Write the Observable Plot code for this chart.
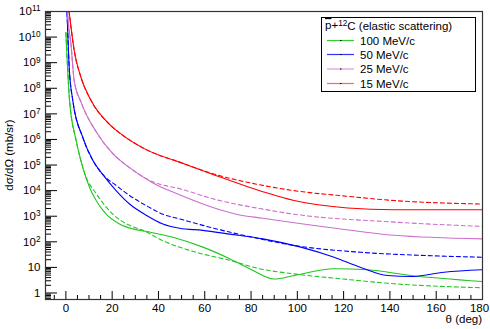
<!DOCTYPE html>
<html><head><meta charset="utf-8">
<script src="https://cdn.jsdelivr.net/npm/d3@7"></script>
<script src="https://cdn.jsdelivr.net/npm/@observablehq/plot@0.6"></script>
<style>
body{margin:0;background:#fff}
svg{font-family:"Liberation Sans",Arial,Helvetica,sans-serif}
</style>
</head><body><div id="chart"></div>
<script>
// ---- data ----
const seriesNames = ["100 MeV/c","50 MeV/c","25 MeV/c","15 MeV/c"];
const seriesColors = ["#1fc71f","#0000ff","#cc6fcc","#ff0000"];
const legendColors = ["#33cc33","#3333ff","#dd99dd","#ff6666"];

// 100 MeV/c
const g_solid_theta = [0,0.72,1.6,4.45,7.3,10.2,13.1,17.4,23.2,28.9,36.2,46.2,59.2,70.7,79.4,90,98.6,115.9,130.3,149,180];
const g_solid_val   = [1.5e10,6.6e8,3.3e7,9.1e5,8.1e4,1.35e4,4.1e3,1.2e3,5.0e2,3.2e2,2.4e2,1.5e2,62,22,8.9,3.5,4.8,8.9,8.1,4.8,2.8];
const g_dash_theta  = [0,0.72,1.6,4.45,7.3,8.8,13.1,20.3,27.5,33.3,41.9,56.3,70.7,83.7,98.6,120,141.8,180];
const g_dash_val    = [1.5e10,6.6e8,3.3e7,9.1e5,8.1e4,3.3e4,7.6e3,1.2e3,4.4e2,2.8e2,1.1e2,39,19,8.9,5.6,3.5,2.3,1.6];
// 50 MeV/c
const b_solid_theta = [0.3,0.5,1.44,3.0,7.3,11.7,16.0,21.7,27.5,34.7,41.9,49.1,59.2,70.7,85.1,101.5,115.9,127.4,139,149,163.4,180];
const b_solid_val   = [3.2e11,1e11,6.6e8,3.3e7,1.2e6,1.5e5,4.2e4,1.0e4,3.0e3,1.1e3,5.0e2,3.4e2,2.8e2,2.0e2,1.3e2,62,25,10,4.8,4.4,6.5,8.1];
const b_dash_theta  = [0.3,0.5,1.44,3.0,7.3,11.7,16.0,21.7,27.5,34.7,41.9,49.1,59.2,70.7,79.4,98.6,127.4,156,180];
const b_dash_val    = [3.2e11,1e11,6.6e8,3.3e7,1.2e6,1.5e5,4.2e4,1.6e4,6.5e3,2.6e3,1.2e3,7.9e2,4.4e2,2.4e2,1.6e2,72,39,29,25];
// 25 MeV/c
const v_solid_theta = [0.5,0.7,2.2,3.6,6.6,13.1,20.3,27.5,37.6,49.1,63.5,73.6,85.1,113,141.8,180];
const v_solid_val   = [2.5e11,1e11,5.4e9,2.0e8,2.8e7,2.0e6,2.8e5,7.9e4,2.0e4,6.9e3,2.2e3,1.2e3,8.3e2,3.7e2,1.8e2,1.3e2];
const v_dash_theta  = [0.5,0.7,2.2,3.6,6.6,13.1,20.3,27.5,37.6,49.1,63.5,85.1,98.6,141.8,180];
const v_dash_val    = [2.5e11,1e11,5.4e9,2.0e8,2.8e7,2.0e6,2.8e5,7.9e4,2.2e4,1.2e4,4.8e3,1.9e3,1.2e3,5.9e2,4.0e2];
// 15 MeV/c
const r_solid_theta = [1,1.4,3.6,6.5,10.9,19.4,23.2,34.7,49.1,63.5,85.1,98.6,121.7,141.7,180];
const r_solid_val   = [2.0e11,1.0e11,3.0e9,2.7e8,3.3e7,3.5e6,1.8e6,4.0e5,1.3e5,4.3e4,9.1e3,4.1e3,2.1e3,1.8e3,1.8e3];
const r_dash_theta  = [1,1.4,3.6,6.5,10.9,19.4,23.2,34.7,49.1,63.5,85.1,98.6,121.7,141.8,180];
const r_dash_val    = [2.0e11,1.0e11,3.0e9,2.7e8,3.3e7,3.5e6,1.8e6,4.0e5,1.3e5,4.6e4,1.6e4,1.0e4,6.0e3,4.1e3,3.0e3];

const xMajorTicks = [0,20,40,60,80,100,120,140,160,180];
const xMinorTicks = [-5,5,10,15,25,30,35,45,50,55,65,70,75,85,90,95,105,110,115,125,130,135,145,150,155,165,170,175];
const yMajorTicks = [1,1e1,1e2,1e3,1e4,1e5,1e6,1e7,1e8,1e9,1e10,1e11];
const yMinorMult  = [2,3,4,5,6,7,8,9];
const yMinorBelow = [0.6,0.7,0.8,0.9];

const legendTitle = ["p","+","12","C (elastic scattering)"];
const xTitle = "θ (deg)";
const yTitle = "dσ/dΩ (mb/sr)";

// ---- build tables ----
function rows(thetas, vals){ return thetas.map((t,i)=>({theta:t, value:vals[i]})); }
const curves = [
  {solid: rows(g_solid_theta,g_solid_val), dash: rows(g_dash_theta,g_dash_val), color: seriesColors[0]},
  {solid: rows(b_solid_theta,b_solid_val), dash: rows(b_dash_theta,b_dash_val), color: seriesColors[1]},
  {solid: rows(v_solid_theta,v_solid_val), dash: rows(v_dash_theta,v_dash_val), color: seriesColors[2]},
  {solid: rows(r_solid_theta,r_solid_val), dash: rows(r_dash_theta,r_dash_val), color: seriesColors[3]},
];
const yMinorTicks = yMinorBelow.concat(yMajorTicks.slice(0,-1).flatMap(d=>yMinorMult.map(m=>d*m)));

const W = 490, H = 329, mL = 45, mR = 8, mT = 11, mB = 30;
const fw = W-mL-mR, fh = H-mT-mB;

const marks = [];
curves.forEach(c=>{
  marks.push(Plot.line(c.dash, {x:"theta", y:"value", stroke:c.color, strokeWidth:1.1, strokeDasharray:"4,3", curve:"monotone-x", clip:true}));
  marks.push(Plot.line(c.solid, {x:"theta", y:"value", stroke:c.color, strokeWidth:1.1, curve:"monotone-x", clip:true}));
});
marks.push(
  Plot.tickX(xMajorTicks, {x:d=>d, insetTop: fh-8, stroke:"#000"}),
  Plot.tickX(xMinorTicks, {x:d=>d, insetTop: fh-4, stroke:"#000"}),
  Plot.tickY(yMajorTicks, {y:d=>d, insetRight: fw-12, stroke:"#000"}),
  Plot.tickY(yMinorTicks, {y:d=>d, insetRight: fw-6, stroke:"#000"}),
  Plot.frame({stroke:"#333", strokeWidth:1.2}),
  Plot.axisX({ticks:xMajorTicks, tickSize:0, tickPadding:4, label:null, fontSize:11.5}),
  Plot.axisY({ticks:yMajorTicks, tickSize:0, tickPadding:5, label:null, fontSize:11.5,
    tickFormat: d => d >= 100 ? "10^" + Math.round(Math.log10(d)) : String(d)})
);

const chart = Plot.plot({
  width: W, height: H,
  marginLeft: mL, marginRight: mR, marginTop: mT, marginBottom: mB,
  style: {fontFamily:'"Liberation Sans",Arial,sans-serif', fontSize:"11px", background:"#fff", color:"#000"},
  x: {domain:[-8.8,180]},
  y: {type:"log", domain:[0.557,1e11]},
  marks
});
document.getElementById("chart").appendChild(chart);

// superscripts on y tick labels; keep "180" inside the picture
const svg = d3.select(chart);
svg.selectAll("text").each(function(){
  const t = this.textContent;
  if (t.includes("^")) {
    const [b,e] = t.split("^");
    const s = d3.select(this);
    s.text(b);
    s.append("tspan").attr("dy","-0.45em").attr("font-size","0.72em").text(e);
  } else if (t === "180") {
    d3.select(this).attr("dx", -3);
  }
});

// axis titles
svg.append("text").attr("x", W-mR).attr("y", 323).attr("text-anchor","end")
  .attr("font-size",11.5).attr("fill","#000").text(xTitle);
svg.append("text").attr("transform",`translate(13,${mT+fh/2}) rotate(-90)`).attr("text-anchor","middle")
  .attr("font-size",11.5).attr("fill","#000").text(yTitle);

// legend
const lg = svg.append("g").attr("text-anchor","start");
lg.append("rect").attr("x",321.5).attr("y",17.5).attr("width",154).attr("height",74)
  .attr("fill","#fff").attr("stroke","#000").attr("stroke-width",1);
const tt = lg.append("text").attr("x",325).attr("y",29).attr("font-size",11.5).attr("fill","#000").attr("text-anchor","start");
tt.append("tspan").attr("text-decoration","overline").text(legendTitle[0]);
tt.append("tspan").text(legendTitle[1]);
tt.append("tspan").attr("dy","-0.4em").attr("font-size","0.72em").text(legendTitle[2]);
tt.append("tspan").attr("dy","0.4em").text(legendTitle[3]);
const ly = [40.5,54.5,69,83.5];
seriesNames.forEach((n,i)=>{
  lg.append("line").attr("x1",327).attr("x2",354).attr("y1",ly[i]).attr("y2",ly[i])
    .attr("stroke",legendColors[i]).attr("stroke-width",1.2);
  lg.append("line").attr("x1",340).attr("x2",341.5).attr("y1",ly[i]).attr("y2",ly[i])
    .attr("stroke","#000").attr("stroke-width",1);
  lg.append("text").attr("x",360).attr("y",ly[i]+4).attr("font-size",11.5).attr("fill","#000")
    .attr("text-anchor","start").text(n);
});
</script>
</body></html>
